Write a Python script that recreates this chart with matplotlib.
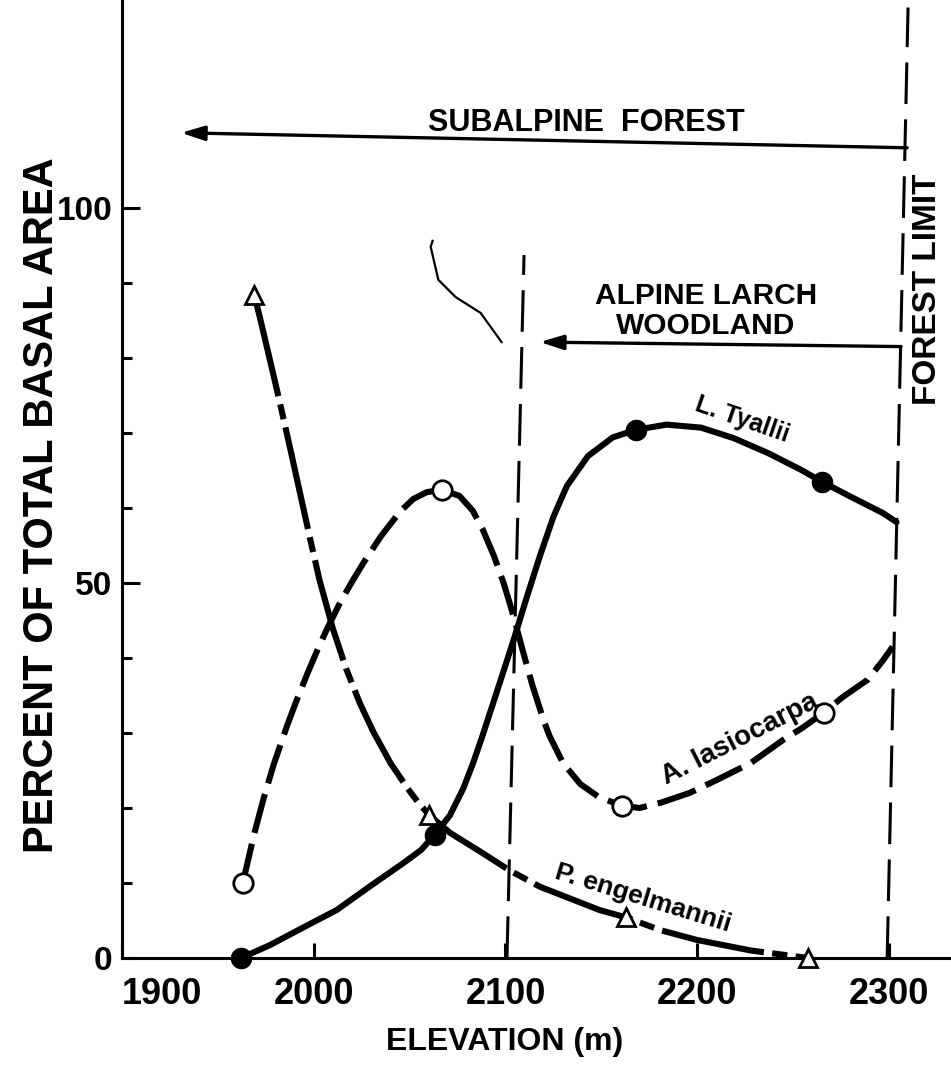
import numpy as np
import matplotlib.pyplot as plt

plt.rcParams['font.family'] = ['Liberation Sans', 'DejaVu Sans']
plt.rcParams['font.weight'] = 'bold'
plt.rcParams['lines.scale_dashes'] = False

# sample stands (elevation m, % of total basal area)
lyallii_elev = [1962, 2063, 2168, 2265]
lyallii_pct = [0, 16.4, 70.4, 63.5]
lasio_elev = [1963, 2067, 2161, 2266]
lasio_pct = [10.0, 62.4, 20.3, 32.7]
engel_elev = [1969, 2060, 2163, 2258]
engel_pct = [88.4, 19.1, 5.4, 0]

# hand drawn curves
lyallii_curve_x = [1962, 1977, 1994, 2012, 2029, 2047, 2056, 2063, 2071, 2078,
                   2083, 2088, 2094, 2101, 2105, 2111, 2118, 2125, 2132, 2143,
                   2156, 2168, 2184, 2202, 2219, 2237, 2254, 2265, 2280, 2297, 2304]
lyallii_curve_y = [0, 1.7, 4.0, 6.4, 9.5, 12.7, 14.4, 16.4, 19.0, 22.6,
                   25.9, 29.6, 34.3, 39.8, 43.0, 48.0, 53.6, 58.8, 62.9, 66.9,
                   69.4, 70.4, 71.1, 70.7, 69.3, 67.3, 65.1, 63.5, 61.5, 59.3, 58.1]

lasio_curve_x = [1963, 1965, 1969, 1974, 1979, 1986, 1991, 1997, 2002, 2007,
                 2014, 2021, 2026, 2035, 2045, 2052, 2059, 2067, 2076, 2083,
                 2088, 2094, 2099, 2102, 2105, 2109, 2114, 2120, 2123, 2130,
                 2139, 2149, 2161, 2170, 2181, 2196, 2210, 2228, 2245, 2255,
                 2266, 2276, 2289, 2297, 2302]
lasio_curve_y = [10.0, 12.2, 16.6, 21.4, 25.7, 30.9, 34.3, 38.1, 41.1, 43.9,
                 47.5, 50.6, 52.7, 56.2, 59.5, 61.2, 62.1, 62.4, 61.6, 59.6,
                 57.2, 53.6, 50.0, 47.5, 44.8, 41.0, 36.4, 31.6, 29.6, 26.0,
                 23.2, 21.4, 20.3, 20.0, 20.7, 22.0, 23.7, 26.0, 29.1, 30.7,
                 32.7, 34.8, 37.1, 39.7, 41.5]

engel_curve_x = [1969, 1972, 1978, 1982, 1988, 1993, 1998, 2003, 2010, 2017,
                 2024, 2031, 2040, 2049, 2054, 2060, 2071, 2088, 2102, 2118,
                 2132, 2149, 2163, 2181, 2200, 2228, 2258]
engel_curve_y = [88.4, 85.3, 78.8, 74.4, 67.6, 61.8, 56.0, 50.4, 43.9, 38.5,
                 34.0, 30.2, 26.0, 22.6, 20.9, 19.1, 16.7, 14.0, 11.7, 9.5,
                 8.1, 6.4, 5.4, 3.7, 2.4, 1.0, 0]

# zone limits (hand drawn, slightly tilted)
woodland_x = [2100.8, 2109.7]
woodland_y = [0, 93.7]
limit_x = [2299.1, 2310.0]
limit_y = [0, 126.7]

subalpine_arrow_x = [2309.5, 1930.8]
subalpine_arrow_y = [108.0, 110.0]
larch_arrow_x = [2306.4, 2118.0]
larch_arrow_y = [81.5, 82.1]

# stray pen mark on the scan
mark_x = [2062, 2061, 2065, 2074, 2087, 2098]
mark_y = [95.6, 94.8, 90.4, 88.1, 86.0, 82.1]

x_ticks = [1900, 2000, 2100, 2200, 2300]
y_ticks = [0, 50, 100]
y_minor = [10, 20, 30, 40, 60, 70, 80, 90]

fig = plt.figure(figsize=(9.51, 10.91), dpi=100)
ax = fig.add_axes([0.1283, 0.1219, 0.8717, 0.8781])

lw = 4.4
ax.plot(lyallii_curve_x, lyallii_curve_y, 'k-', lw=lw, solid_capstyle='round',
        solid_joinstyle='round', zorder=3)
ax.plot(lasio_curve_x, lasio_curve_y, 'k', lw=lw, dashes=(29, 8), zorder=3)
ax.plot(engel_curve_x, engel_curve_y, 'k', lw=lw, dashes=(75, 6, 11, 6), zorder=3)

ax.plot(lyallii_elev, lyallii_pct, 'ko', ms=14.5, zorder=5, clip_on=False)
ax.plot(lasio_elev, lasio_pct, 'o', ms=14, mfc='white', mec='k', mew=2, zorder=5, clip_on=False)
ax.plot(engel_elev, engel_pct, '^', ms=13, mfc='white', mec='k', mew=2, zorder=5, clip_on=False)

ax.plot(woodland_x, woodland_y, 'k', lw=2.2, dashes=(30, 11), zorder=2)
ax.plot(limit_x, limit_y, 'k', lw=2.2, dashes=(30, 11), zorder=2, clip_on=False)
ax.plot(mark_x, mark_y, 'k-', lw=1.6, zorder=2)

arrow = dict(arrowstyle='-|>,head_length=0.7,head_width=0.22', lw=2.4, color='k',
             shrinkA=0, shrinkB=0, mutation_scale=20)
ax.annotate('', xy=(subalpine_arrow_x[1], subalpine_arrow_y[1]),
            xytext=(subalpine_arrow_x[0], subalpine_arrow_y[0]), arrowprops=arrow)
ax.annotate('', xy=(larch_arrow_x[1], larch_arrow_y[1]),
            xytext=(larch_arrow_x[0], larch_arrow_y[0]), arrowprops=arrow)

ax.text(2142, 111.3, 'SUBALPINE  FOREST', fontsize=22, ha='center', va='center')
ax.text(2204.6, 88.3, 'ALPINE LARCH', fontsize=21.5, ha='center', va='center')
ax.text(2204.6, 84.2, 'WOODLAND', fontsize=21.5, ha='center', va='center')
ax.text(2320, 89.2, 'FOREST LIMIT', fontsize=24, rotation=90, ha='center', va='center')

ax.text(2223.4, 71.8, 'L. Tyallii', fontsize=18, rotation=-19, ha='center', va='center',
        rotation_mode='anchor')
ax.text(2222.4, 29.2, 'A. lasiocarpa', fontsize=20, rotation=27, ha='center', va='center',
        rotation_mode='anchor')
ax.text(2171.8, 8.0, 'P. engelmannii', fontsize=19, rotation=-17, ha='center', va='center',
        rotation_mode='anchor')

ax.set_xlim(1900, 2332.4)
ax.set_ylim(0, 127.7)
ax.set_xticks(x_ticks)
ax.set_xticklabels([str(v) for v in x_ticks], fontsize=26)
ax.get_xticklabels()[0].set_horizontalalignment('left')
ax.set_yticks(y_ticks)
ax.set_yticklabels([str(v) for v in y_ticks], fontsize=24)
ax.set_yticks(y_minor, minor=True)
ax.tick_params(axis='x', direction='in', length=11, width=2.2, pad=14)
ax.tick_params(axis='y', which='major', direction='in', length=13, width=2.2, pad=7)
ax.tick_params(axis='y', which='minor', direction='in', length=7, width=2.2)

for s in ['top', 'right']:
    ax.spines[s].set_visible(False)
for s in ['left', 'bottom']:
    ax.spines[s].set_linewidth(2.2)

fig.text(0.0442, 0.537, 'PERCENT OF TOTAL BASAL AREA', fontsize=30, rotation=90,
         ha='center', va='center')
fig.text(0.531, 0.045, 'ELEVATION (m)', fontsize=23, ha='center', va='center')

fig.savefig('out.png', dpi=100)
